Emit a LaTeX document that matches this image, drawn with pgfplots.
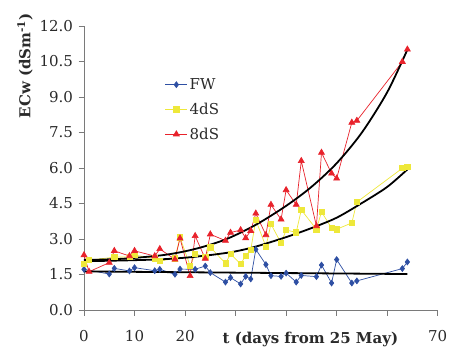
\documentclass[border=0pt]{standalone}
\usepackage{fontspec}
\setmainfont{DejaVu Serif}
\usepackage{pgfplots}
\pgfplotsset{compat=1.18}
\definecolor{fwblue}{HTML}{2E4FA3}
\definecolor{dsyellow}{HTML}{EEE83A}
\definecolor{dsred}{HTML}{E8222B}
\definecolor{axgray}{HTML}{7A7A7A}
\definecolor{txtgray}{HTML}{2A2A2A}
\newcommand\tf{\fontsize{15bp}{18bp}\selectfont}
\begin{document}
\begin{tikzpicture}
\begin{axis}[name=ax,
  scale only axis, width=353.7bp, height=284bp,
  xmin=0, xmax=70, ymin=0, ymax=12,
  axis x line=bottom, axis y line=left,
  axis line style={-, axgray, line width=0.9bp},
  tick style={axgray, line width=0.9bp},
  tick align=outside, major tick length=5.5bp,
  xtick={0,10,20,30,40,50,60,70},
  xticklabels={0,10,20,,,,,70},
  ytick={0,1.5,3,4.5,6,7.5,9,10.5,12},
  yticklabel style={/pgf/number format/fixed, /pgf/number format/fixed zerofill, /pgf/number format/precision=1},
  /pgf/number format/assume math mode=true,
  tick label style={font=\tf, text=txtgray},
  xticklabel style={anchor=base, yshift=-25.5bp},
  yticklabel style={anchor=east, xshift=-2bp},
  xlabel={\textbf{t (days from 25 May)}},
  xlabel style={font=\tf, text=txtgray, at={(rel axis cs:0.64,0)}, anchor=base, yshift=-33bp},
  ylabel={\textbf{ECw (dSm\textsuperscript{-1})}},
  ylabel style={font=\tf, text=txtgray, at={(rel axis cs:0,0.86)}, anchor=center, yshift=59bp},
  legend style={at={(rel axis cs:0.22,0.83)}, anchor=north west, draw=none, fill=none,
    font=\tf, text=txtgray, row sep=8bp},
  legend cell align=left,
  legend image code/.code={\draw[mark repeat=2,mark phase=2] plot coordinates {(0bp,0bp) (11bp,0bp) (22bp,0bp)};},
  clip=false,
]
\addplot[fwblue, line width=0.7bp, mark=diamond*, mark size=2.9bp, mark options={solid, fill=fwblue}] coordinates {
(0,1.72) (5,1.52) (6,1.76) (9,1.65) (10,1.79) (14,1.66) (15,1.72) (18,1.51) (19,1.73) (22,1.72) (24,1.86) (25,1.58) (28,1.18) (29,1.37) (31,1.10) (32,1.42) (33,1.31) (34,2.56) (36,1.92) (37,1.45) (39,1.42) (40,1.56) (42,1.18) (43,1.46) (46,1.41) (47,1.90) (49,1.14) (50,2.13) (53,1.14) (54,1.23) (63,1.75) (64,2.03)};
\addlegendentry{FW}
\addplot[dsyellow, line width=0.7bp, mark=square*, mark size=2.6bp, mark options={solid, fill=dsyellow}] coordinates {
(0,1.94) (1,2.11) (6,2.23) (9,2.25) (10,2.32) (14,2.18) (15,2.07) (18,2.18) (19,3.07) (21,1.87) (22,2.37) (24,2.25) (25,2.65) (28,1.97) (29,2.37) (31,1.94) (32,2.30) (33,2.54) (34,3.80) (36,2.68) (37,3.63) (39,2.83) (40,3.38) (42,3.28) (43,4.23) (46,3.41) (47,4.15) (49,3.46) (50,3.41) (53,3.68) (54,4.56) (63,5.99) (64,6.04)};
\addlegendentry{4dS}
\addplot[dsred, line width=0.7bp, mark=triangle*, mark size=3.4bp, mark options={solid, fill=dsred}] coordinates {
(0,2.32) (1,1.62) (5,2.00) (6,2.50) (9,2.28) (10,2.50) (14,2.28) (15,2.58) (18,2.14) (19,3.03) (21,1.44) (22,3.13) (24,2.17) (25,3.20) (28,2.93) (29,3.27) (31,3.38) (32,3.04) (33,3.35) (34,4.08) (36,3.17) (37,4.45) (39,3.83) (40,5.07) (42,4.45) (43,6.30) (46,3.55) (47,6.65) (49,5.77) (50,5.56) (53,7.92) (54,8.00) (63,10.49) (64,11.01)};
\addlegendentry{8dS}
\addplot[black, line width=1.8bp, forget plot] coordinates {(0,1.63) (64,1.52)};
\addplot[black, line width=1.8bp, smooth, forget plot] coordinates {
(0,2.06) (9,2.10) (16,2.15) (22,2.25) (29,2.44) (34,2.68) (40,3.08) (45,3.46) (50,3.9) (55,4.52) (60,5.2) (64,5.94)};
\addplot[black, line width=1.8bp, smooth, forget plot] coordinates {
(0,2.11) (8,2.17) (16,2.33) (22,2.58) (28,2.98) (34,3.6) (40,4.4) (45,5.2) (50,6.2) (55,7.5) (60,9.2) (64,11.0)};
\end{axis}
\pgfresetboundingbox
\path[use as bounding box] ([shift={(-84bp,-36bp)}]ax.south west) rectangle ([shift={(11.3bp,26bp)}]ax.north east);
\end{tikzpicture}
\end{document}
